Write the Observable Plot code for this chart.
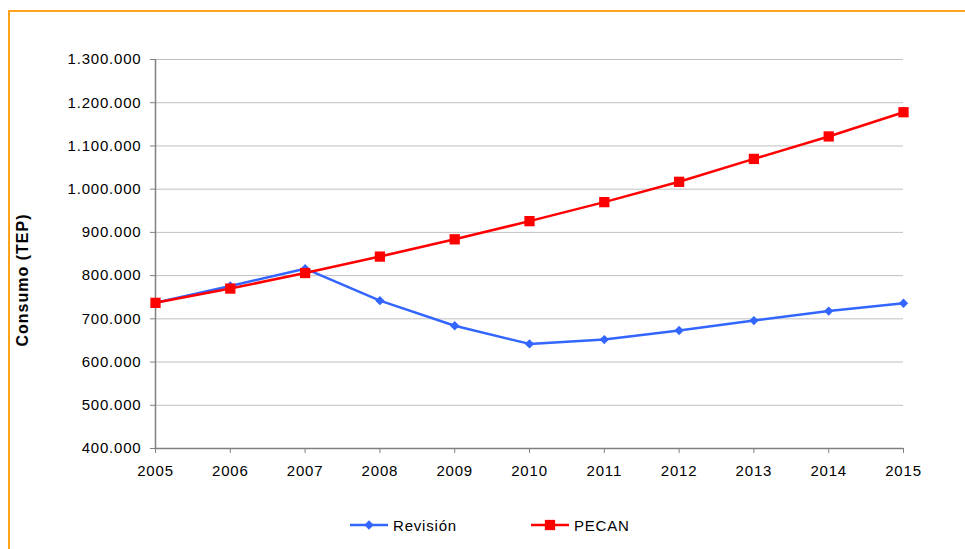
<!DOCTYPE html>
<html>
<head>
<meta charset="utf-8">
<script src="https://cdn.jsdelivr.net/npm/d3@7"></script>
<script src="https://cdn.jsdelivr.net/npm/@observablehq/plot@0.6"></script>
<style>
  html, body { margin: 0; padding: 0; background: #fff; overflow: hidden; width: 965px; height: 549px; }
  #page { position: relative; width: 965px; height: 549px; font-family: "Liberation Sans", Arial, sans-serif; }
  #frame { position: absolute; left: 8px; top: 10px; width: 1100px; height: 700px; border: 2px solid #FFA31A; box-sizing: border-box; }
  #chart { position: absolute; left: 0; top: 0; }
  #chart svg text { font-size: 15px; letter-spacing: 0.8px; }
  #chart svg text.ytitle { font-size: 16px; font-weight: bold; letter-spacing: 1px; }
  #legend { position: absolute; left: 0; top: 514px; width: 965px; height: 22px; }
  #legend .item { position: absolute; top: 0; display: flex; align-items: center; font-size: 15px; letter-spacing: 0.8px; color: #000; }
  #legend svg { display: block; margin-right: 3px; }
</style>
</head>
<body>
<div id="page">
  <div id="frame"></div>
  <div id="chart"></div>
  <div id="legend"></div>
</div>
<script>
// Years on the horizontal axis
const years = [2005, 2006, 2007, 2008, 2009, 2010, 2011, 2012, 2013, 2014, 2015];
// Energy consumption (TEP) per scenario
const revision = [737000, 776000, 816000, 742000, 684000, 642000, 652000, 673000, 696000, 718000, 736000];
const pecan = [737000, 770000, 806000, 844000, 884000, 926000, 970000, 1017000, 1070000, 1122000, 1178000];
// Axis ticks
const yTicks = [400000, 500000, 600000, 700000, 800000, 900000, 1000000, 1100000, 1200000, 1300000];
const seriesNames = ["Revisión", "PECAN"];
const seriesColors = ["#3366FF", "#FF0000"];
const yTitle = "Consumo (TEP)";

const esFormat = d3.formatLocale({decimal: ",", thousands: ".", grouping: [3], currency: ["", " €"]}).format(",.0f");

const rows = [
  ...years.map((y, i) => ({year: y, value: revision[i], series: seriesNames[0]})),
  ...years.map((y, i) => ({year: y, value: pecan[i], series: seriesNames[1]}))
];
const revRows = rows.filter(d => d.series === seriesNames[0]);
const pecRows = rows.filter(d => d.series === seriesNames[1]);

const axisColor = "#808080";

const chart = Plot.plot({
  width: 965,
  height: 490,
  marginLeft: 155,
  marginRight: 62,
  marginTop: 59,
  marginBottom: 42,
  style: {fontFamily: "'Liberation Sans', Arial, sans-serif", fontSize: "15px", color: "#000", background: "transparent"},
  x: {domain: [2005, 2015]},
  y: {domain: [400000, 1300000]},
  marks: [
    Plot.gridY(yTicks, {stroke: "#C0C0C0", strokeOpacity: 1, strokeWidth: 1}),
    Plot.axisY(yTicks, {tickSize: 5, tickPadding: 9, stroke: axisColor, fill: "#000", tickFormat: esFormat, label: null}),
    Plot.axisX(years, {tickSize: 5, tickPadding: 12, stroke: axisColor, fill: "#000", tickFormat: d => String(d), label: null}),
    Plot.ruleX([2005], {stroke: axisColor, strokeWidth: 1.5}),
    Plot.ruleY([400000], {stroke: axisColor, strokeWidth: 1.5}),
    Plot.line(revRows, {x: "year", y: "value", stroke: seriesColors[0], strokeWidth: 2.5}),
    Plot.dot(revRows, {x: "year", y: "value", symbol: "diamond2", r: 4.2, fill: seriesColors[0], stroke: null}),
    Plot.line(pecRows, {x: "year", y: "value", stroke: seriesColors[1], strokeWidth: 2.5}),
    Plot.dot(pecRows, {x: "year", y: "value", symbol: "square", r: 5.8, fill: seriesColors[1], stroke: null})
  ]
});
document.getElementById("chart").appendChild(chart);

// Rotated y-axis title
d3.select(chart).append("text")
  .attr("class", "ytitle")
  .attr("transform", "translate(28,280) rotate(-90)")
  .attr("text-anchor", "middle")
  .attr("fill", "#000")
  .text(yTitle);

// Legend below the plot
const legend = d3.select("#legend");
const legendLeft = [350, 531];
seriesNames.forEach((name, i) => {
  const item = legend.append("div").attr("class", "item").style("left", legendLeft[i] + "px");
  const svg = item.append("svg").attr("width", 40).attr("height", 22);
  svg.append("line").attr("x1", 0).attr("x2", 38).attr("y1", 11).attr("y2", 11)
    .attr("stroke", seriesColors[i]).attr("stroke-width", 2.5);
  const sym = i === 0 ? d3.symbol(d3.symbolDiamond2, Math.PI * 4.2 * 4.2) : d3.symbol(d3.symbolSquare, Math.PI * 5.8 * 5.8);
  svg.append("path").attr("d", sym()).attr("transform", "translate(19,11)").attr("fill", seriesColors[i]);
  item.append("span").text(name);
});
</script>
</body>
</html>
